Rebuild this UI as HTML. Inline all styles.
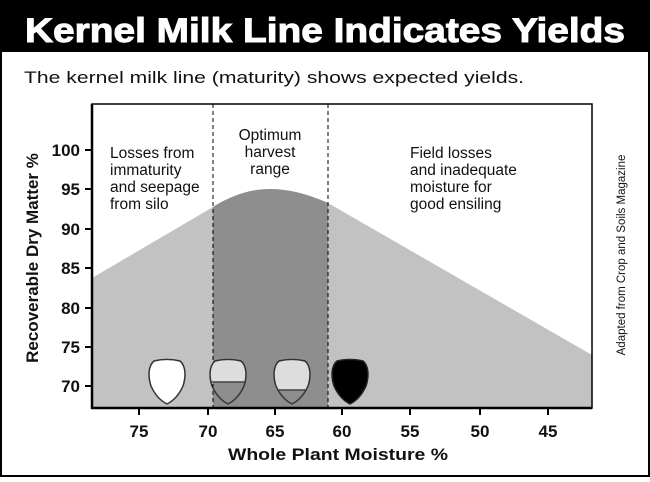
<!DOCTYPE html>
<html><head><style>
body{margin:0;background:#fff;}
svg text{font-family:"Liberation Sans",sans-serif;}
</style></head><body>
<svg width="650" height="477" viewBox="0 0 650 477" xmlns="http://www.w3.org/2000/svg">
<rect x="0" y="0" width="650" height="477" fill="#fff"/>
<rect x="0" y="0" width="650" height="52" fill="#000"/>
<text x="25" y="42" fill="#fff" font-size="34" font-weight="bold" textLength="600" lengthAdjust="spacingAndGlyphs" stroke="#fff" stroke-width="1">Kernel Milk Line Indicates Yields</text>
<text x="24" y="83" font-size="17" fill="#111" textLength="500" lengthAdjust="spacingAndGlyphs">The kernel milk line (maturity) shows expected yields.</text>
<rect x="1" y="1" width="648" height="475" fill="none" stroke="#000" stroke-width="2"/>
<path d="M92,278 L213,207 C235,193 255,189 270,189 C290,189 310,195 328,203 L592,355 L592,408 L92,408 Z" fill="#c2c2c2"/>
<path d="M213,207 C235,193 255,189 270,189 C290,189 310,195 328,203 L328,408 L213,408 Z" fill="#8e8e8e"/>
<line x1="213" y1="104" x2="213" y2="408" stroke="#000" stroke-dasharray="4,3" stroke-width="1"/>
<line x1="328" y1="104" x2="328" y2="408" stroke="#000" stroke-dasharray="4,3" stroke-width="1"/>
<rect x="92" y="104" width="500" height="304" fill="none" stroke="#000" stroke-width="1.5"/>
<line x1="92" y1="104" x2="92" y2="409" stroke="#000" stroke-width="2.5"/>
<line x1="91" y1="408" x2="592" y2="408" stroke="#000" stroke-width="2.5"/>
<g stroke="#000" stroke-width="2">
<line x1="85" y1="150" x2="92" y2="150"/><line x1="85" y1="189" x2="92" y2="189"/><line x1="85" y1="229" x2="92" y2="229"/><line x1="85" y1="268" x2="92" y2="268"/><line x1="85" y1="308" x2="92" y2="308"/><line x1="85" y1="347" x2="92" y2="347"/><line x1="85" y1="386" x2="92" y2="386"/>
<line x1="139" y1="408" x2="139" y2="415"/><line x1="208" y1="408" x2="208" y2="415"/><line x1="275" y1="408" x2="275" y2="415"/><line x1="342" y1="408" x2="342" y2="415"/><line x1="410" y1="408" x2="410" y2="415"/><line x1="480" y1="408" x2="480" y2="415"/><line x1="548" y1="408" x2="548" y2="415"/>
</g>
<g font-size="17" font-weight="bold" text-anchor="end" fill="#111">
<text x="80" y="156">100</text><text x="80" y="195">95</text><text x="80" y="235">90</text><text x="80" y="274">85</text><text x="80" y="314">80</text><text x="80" y="353">75</text><text x="80" y="392">70</text>
</g>
<g font-size="17" font-weight="bold" text-anchor="middle" fill="#111">
<text x="139" y="437">75</text><text x="208" y="437">70</text><text x="275" y="437">65</text><text x="342" y="437">60</text><text x="410" y="437">55</text><text x="480" y="437">50</text><text x="548" y="437">45</text>
</g>
<text x="228" y="460" font-size="17" font-weight="bold" fill="#111" textLength="220" lengthAdjust="spacingAndGlyphs">Whole Plant Moisture %</text>
<text transform="translate(38,258) rotate(-90)" text-anchor="middle" font-size="17" font-weight="bold" fill="#111">Recoverable Dry Matter %</text>
<text transform="translate(625,255) rotate(-90)" text-anchor="middle" font-size="11.5" fill="#111">Adapted from Crop and Soils Magazine</text>
<g font-size="15.5" fill="#111">
<text x="110" y="158">Losses from</text><text x="110" y="175">immaturity</text><text x="110" y="192">and seepage</text><text x="110" y="209">from silo</text>
<text x="270" y="140" text-anchor="middle">Optimum</text><text x="270" y="157" text-anchor="middle">harvest</text><text x="270" y="174" text-anchor="middle">range</text>
<text x="410" y="158">Field losses</text><text x="410" y="175">and inadequate</text><text x="410" y="192">moisture for</text><text x="410" y="209">good ensiling</text>
</g>
<defs><path id="k" d="M-13,-21 C-5,-23 5,-23 13,-21 C19,-16 19,-5 16,4 C12,13 6,19 0,22 C-6,19 -12,13 -16,4 C-19,-5 -19,-16 -13,-21 Z"/>
<clipPath id="kc"><use href="#k"/></clipPath></defs>
<g transform="translate(167,382)"><use href="#k" fill="#fff" stroke="#333" stroke-width="1.5"/></g>
<g transform="translate(228,382)"><g clip-path="url(#kc)"><rect x="-22" y="-25" width="44" height="25" fill="#ddd"/></g><use href="#k" fill="none" stroke="#333" stroke-width="1.5"/><line x1="-17" y1="0" x2="17" y2="0" stroke="#444" stroke-width="1.5"/></g>
<g transform="translate(292,382)"><g clip-path="url(#kc)"><rect x="-22" y="-25" width="44" height="33" fill="#ddd"/></g><use href="#k" fill="none" stroke="#333" stroke-width="1.5"/><line x1="-15" y1="8" x2="15" y2="8" stroke="#444" stroke-width="1.5"/></g>
<g transform="translate(350,382)"><use href="#k" fill="#000" stroke="#222" stroke-width="1.5"/></g>
</svg>
</body></html>
